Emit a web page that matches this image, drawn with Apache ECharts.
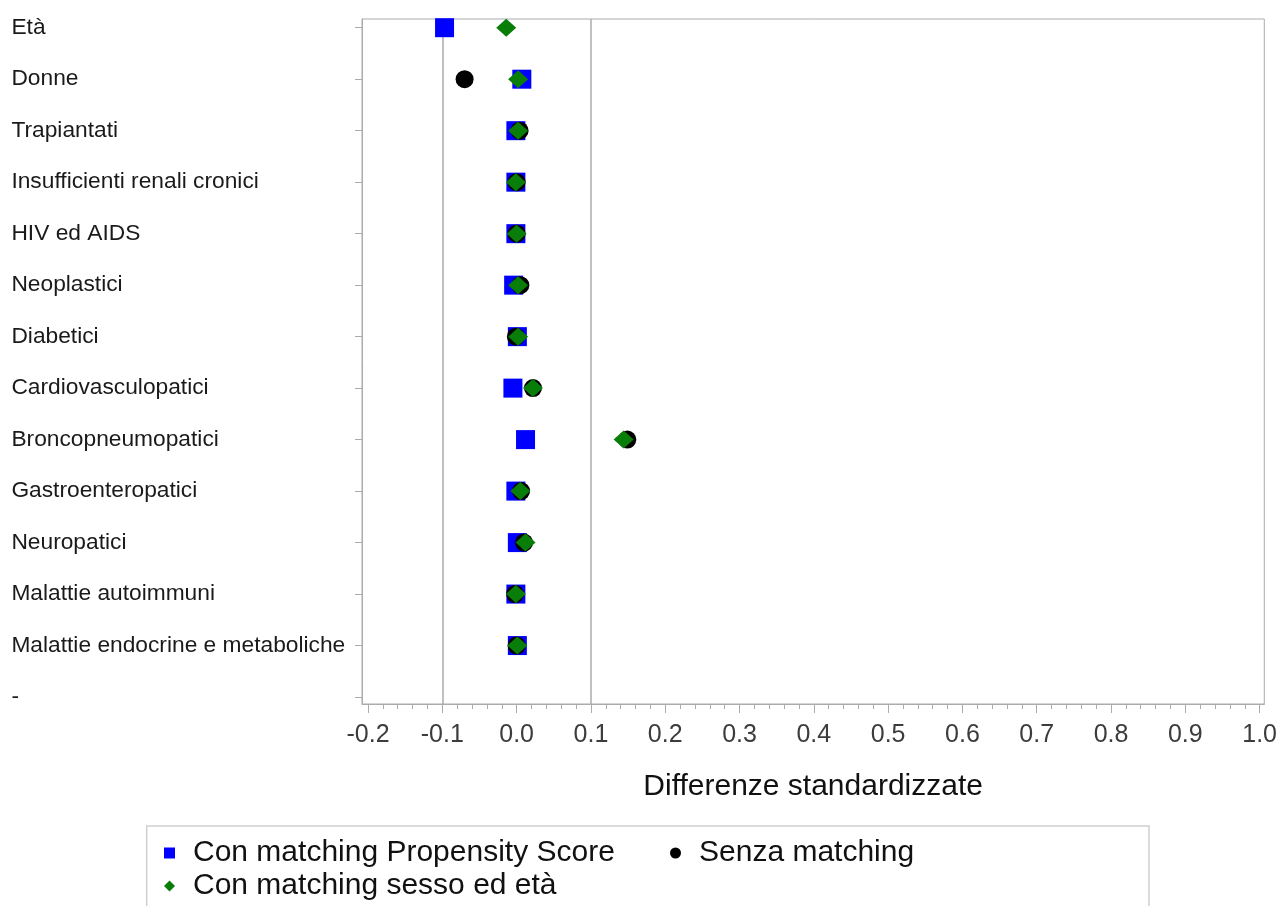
<!DOCTYPE html>
<html>
<head>
<meta charset="utf-8">
<script src="https://cdn.jsdelivr.net/npm/echarts@6/dist/echarts.min.js"></script>
<style>
html,body{margin:0;padding:0;background:#fff;}
#chart{width:1280px;height:906px;}
</style>
</head>
<body>
<div id="chart"></div>
<script>
// Categories (top to bottom)
const categories = [
  'Età', 'Donne', 'Trapiantati', 'Insufficienti renali cronici', 'HIV ed AIDS',
  'Neoplastici', 'Diabetici', 'Cardiovasculopatici', 'Broncopneumopatici',
  'Gastroenteropatici', 'Neuropatici', 'Malattie autoimmuni',
  'Malattie endocrine e metaboliche', '-'
];
// Standardized differences
const propensityScore = [-0.097, 0.007, -0.001, -0.001, -0.001, -0.004, 0.001, -0.005, 0.012, -0.001, 0.001, -0.001, 0.001, null];
const senzaMatching   = [null, -0.070, 0.004, 0.000, 0.000, 0.005, -0.001, 0.022, 0.149, 0.006, 0.010, -0.002, 0.000, null];
const sessoEta        = [-0.014, 0.002, 0.002, -0.001, 0.000, 0.002, 0.002, 0.022, 0.144, 0.005, 0.012, -0.001, 0.001, null];
// X tick labels
const xTickLabels = ['-0.2','-0.1','0.0','0.1','0.2','0.3','0.4','0.5','0.6','0.7','0.8','0.9','1.0'];
const refLines = [-0.1, 0.1];

const xTicks = xTickLabels.map(Number);
const minorTicks = [];
for (let k = -10; k <= 50; k++) { if (k % 5 !== 0) minorTicks.push(+(k * 0.02).toFixed(2)); }
const yIdx = categories.map((c, i) => i);
const toPts = arr => arr.map((v, i) => v === null ? null : [v, i]);

const FONT = 'Liberation Sans, Arial, sans-serif';
const GRAY = '#a9abae';

const chart = echarts.init(document.getElementById('chart'));
chart.setOption({
  animation: false,
  backgroundColor: '#ffffff',
  grid: {
    left: 362, right: 14, top: 19, bottom: 202,
    show: true, borderColor: GRAY, borderWidth: 1, containLabel: false
  },
  xAxis: [{
    type: 'value', min: -0.2081, max: 1.0063, position: 'bottom',
    name: 'Differenze standardizzate', nameLocation: 'middle', nameGap: 68,
    nameTextStyle: { fontFamily: FONT, fontSize: 30, color: '#111' },
    axisLine: { show: true, onZero: false, lineStyle: { color: GRAY } },
    axisTick: { show: true, length: 9, customValues: xTicks, lineStyle: { color: GRAY } },
    axisLabel: { customValues: xTicks, margin: 19, fontFamily: FONT, fontSize: 25, color: '#3c3c3c',
      formatter: v => { const i = xTicks.findIndex(t => Math.abs(t - v) < 1e-9); return i >= 0 ? xTickLabels[i] : ''; } },
    splitLine: { show: false }
  }, {
    type: 'value', min: -0.2081, max: 1.0063, position: 'bottom', offset: 0,
    axisLine: { show: false, onZero: false },
    axisTick: { show: true, length: 5, customValues: minorTicks, lineStyle: { color: GRAY } },
    axisLabel: { show: false },
    splitLine: { show: false }
  }],
  yAxis: {
    type: 'value', inverse: true, min: -0.169, max: 13.135,
    axisLine: { show: true, onZero: false, lineStyle: { color: GRAY } },
    axisTick: { show: true, length: 7, customValues: yIdx, lineStyle: { color: GRAY } },
    axisLabel: { customValues: yIdx, align: 'left', margin: 350.6, fontFamily: FONT, fontSize: 22.75, color: '#1a1a1a',
      formatter: v => categories[Math.round(v)] },
    splitLine: { show: false }
  },
  legend: {
    left: 146.7, top: 826, width: 1100,
    padding: [12, 8, 30, 17.3],
    borderColor: '#cfcfcf', borderWidth: 1.5, borderRadius: 0,
    itemWidth: 11, itemHeight: 11, itemGap: 3,
    textStyle: { fontFamily: FONT, fontSize: 30, color: '#111', lineHeight: 30 },
    data: [
      { name: 'Con matching Propensity Score', icon: 'rect', textStyle: { width: 474, padding: [0, 0, 0, 13] } },
      { name: 'Senza matching', icon: 'circle', textStyle: { width: 442, padding: [0, 0, 0, 13] } },
      { name: 'Con matching sesso ed età', icon: 'diamond', textStyle: { width: 474, padding: [0, 0, 0, 13] } }
    ]
  },
  series: [{
    name: 'Con matching Propensity Score', type: 'scatter', z: 2,
    symbol: 'rect', symbolSize: 19,
    itemStyle: { color: '#0000ff', opacity: 1 },
    data: toPts(propensityScore),
    markLine: {
      z: 1, silent: true, symbol: 'none', label: { show: false },
      lineStyle: { color: GRAY, width: 1.5, type: 'solid' },
      data: refLines.map(v => ({ xAxis: v }))
    }
  }, {
    name: 'Senza matching', type: 'scatter', z: 3,
    symbol: 'circle', symbolSize: 18,
    itemStyle: { color: '#000000', opacity: 1 },
    data: toPts(senzaMatching)
  }, {
    name: 'Con matching sesso ed età', type: 'scatter', z: 4,
    symbol: 'diamond', symbolSize: [20, 18],
    itemStyle: { color: '#087d08', opacity: 1 },
    data: toPts(sessoEta)
  }]
});
</script>
</body>
</html>
